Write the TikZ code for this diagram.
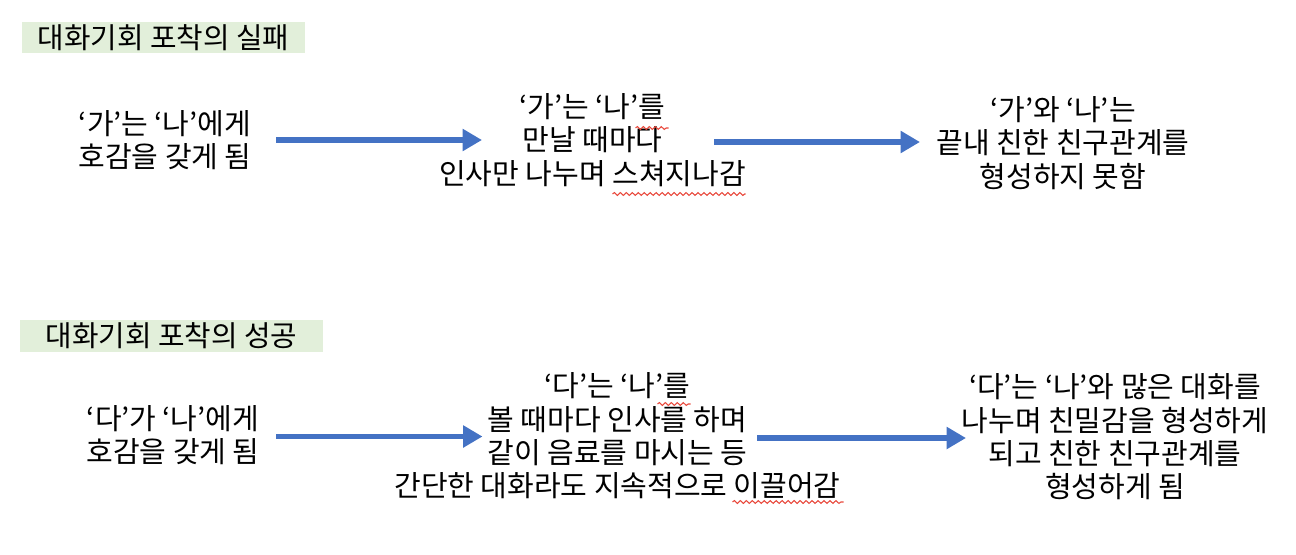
\documentclass[tikz,border=0pt]{standalone}
\usepackage{fontspec}
\setmainfont{Noto Sans CJK KR}
\usetikzlibrary{arrows.meta, decorations.pathmorphing}

\definecolor{arrowblue}{HTML}{4472C4}
\definecolor{headgreen}{HTML}{E2EFDA}
\definecolor{spellred}{HTML}{E8473A}

\begin{document}
\begin{tikzpicture}[
    heading/.style={rectangle, fill=headgreen, inner sep=0pt, minimum height=0.63cm, font=\fontsize{16.4}{19}\selectfont},
    stage/.style={align=center, inner sep=0pt, font=\fontsize{16.5}{19}\selectfont},
    arrow/.style={-{Triangle[length=11pt, width=12pt]}, line width=3.4pt, draw=arrowblue},
    squiggle/.style={draw=spellred, line width=0.6pt, decorate, decoration={snake, amplitude=0.8pt, segment length=3.4pt}}
]

\useasboundingbox (0,0) rectangle (25.92,-11.08);

% Failure row
\node[heading, minimum width=5.66cm] (headfail) at (3.27,-0.75) {대화기회 포착의 실패};
\node[stage] (crush1) at (3.30,-2.80) {‘가’는 ‘나’에게\\호감을 갖게 됨};
\node[stage] (greet1) at (11.85,-2.80) {‘가’는 ‘나’를\\만날 때마다\\인사만 나누며 스쳐지나감};
\node[stage] (result1) at (21.26,-2.86) {‘가’와 ‘나’는\\끝내 친한 친구관계를\\형성하지 못함};

% Success row
\node[heading, minimum width=6.06cm] (headsucc) at (3.43,-6.72) {대화기회 포착의 성공};
\node[stage] (crush2) at (3.46,-8.70) {‘다’가 ‘나’에게\\호감을 갖게 됨};
\node[stage] (greet2) at (12.35,-8.72) {‘다’는 ‘나’를\\볼 때마다 인사를 하며\\같이 음료를 마시는 등\\간단한 대화라도 지속적으로 이끌어감};
\node[stage] (result2) at (22.30,-8.74) {‘다’는 ‘나’와 많은 대화를\\나누며 친밀감을 형성하게\\되고 친한 친구관계를\\형성하게 됨};

% Arrows
\draw[arrow] ([xshift=2.22cm]crush1.center) -- ([xshift=-2.21cm]greet1.center);
\draw[arrow] ([xshift=2.43cm, yshift=-0.04cm]greet1.center) -- ([xshift=-2.86cm, yshift=0.02cm]result1.center);
\draw[arrow] ([xshift=2.06cm, yshift=-0.03cm]crush2.center) -- ([xshift=-2.70cm, yshift=-0.01cm]greet2.center);
\draw[arrow] ([xshift=2.79cm, yshift=-0.04cm]greet2.center) -- ([xshift=-2.98cm, yshift=-0.02cm]result2.center);

% Spelling marks
\draw[squiggle] ([xshift=0.86cm, yshift=0.24cm]greet1.center) -- ([xshift=1.52cm, yshift=0.24cm]greet1.center);
\draw[squiggle] ([xshift=0.40cm, yshift=-1.08cm]greet1.center) -- ([xshift=3.06cm, yshift=-1.08cm]greet1.center);
\draw[squiggle] ([xshift=0.80cm, yshift=0.64cm]greet2.center) -- ([xshift=1.46cm, yshift=0.64cm]greet2.center);
\draw[squiggle] ([xshift=2.30cm, yshift=-1.32cm]greet2.center) -- ([xshift=4.52cm, yshift=-1.32cm]greet2.center);

\end{tikzpicture}
\end{document}
